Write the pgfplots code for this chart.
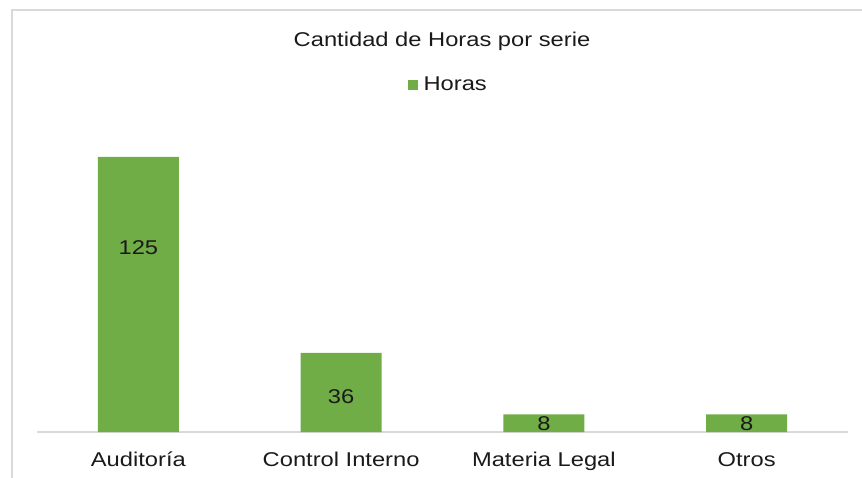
\documentclass[border=0pt]{standalone}
\usepackage{pgfplots}
\pgfplotsset{compat=1.18}
\usepackage{fontspec}
\setmainfont[FakeStretch=1.19]{Liberation Sans}
\definecolor{bargreen}{HTML}{70AD47}
\definecolor{txt}{HTML}{1A1A1A}
\definecolor{framec}{HTML}{D9D9D9}
\begin{document}
\fontsize{20}{23}\selectfont
\begin{tikzpicture}
\useasboundingbox (0,0) rectangle (862bp,478bp);
\draw[framec, line width=1.5bp] (12bp,0) -- (12bp,468bp) -- (862bp,468bp);
\begin{axis}[
  at={(37bp,46bp)}, anchor=south west,
  scale only axis, width=811bp, height=330bp,
  xmin=-0.5, xmax=3.5, ymin=0, ymax=150,
  axis y line=none, axis x line*=bottom,
  x axis line style={draw=framec, line width=1.2bp},
  xtick={0,1,2,3},
  xticklabels={Auditoría, Control Interno, Materia Legal, Otros},
  major tick length=0pt,
  xticklabel style={text=txt, font=\fontsize{20}{23}\selectfont, anchor=base, yshift=-34bp},
  ytick=\empty,
  clip=false,
  legend style={at={(0.507,1.0515)}, anchor=center, draw=none, fill=none,
    font=\fontsize{20}{23}\selectfont, text=txt, inner sep=0pt},
]
\addplot[ybar, bar width=81bp, fill=bargreen, draw=none,
  legend image code/.code={\fill[bargreen] (0bp,-5bp) rectangle (10bp,5bp); \path (0bp,0bp) -- (14bp,0bp);}]
  coordinates {(0,125) (1,36) (2,8) (3,8)};
\addlegendentry{Horas}
\addplot[only marks, mark=none, forget plot, nodes near coords,
  point meta=explicit symbolic,
  nodes near coords style={anchor=center, text=txt, font=\fontsize{20}{23}\selectfont}]
  coordinates {(0,84)[125] (1,16)[36] (2,3.6)[8] (3,3.6)[8]};
\end{axis}
\node[txt] at (442bp,437bp) {Cantidad de Horas por serie};
\end{tikzpicture}
\end{document}
